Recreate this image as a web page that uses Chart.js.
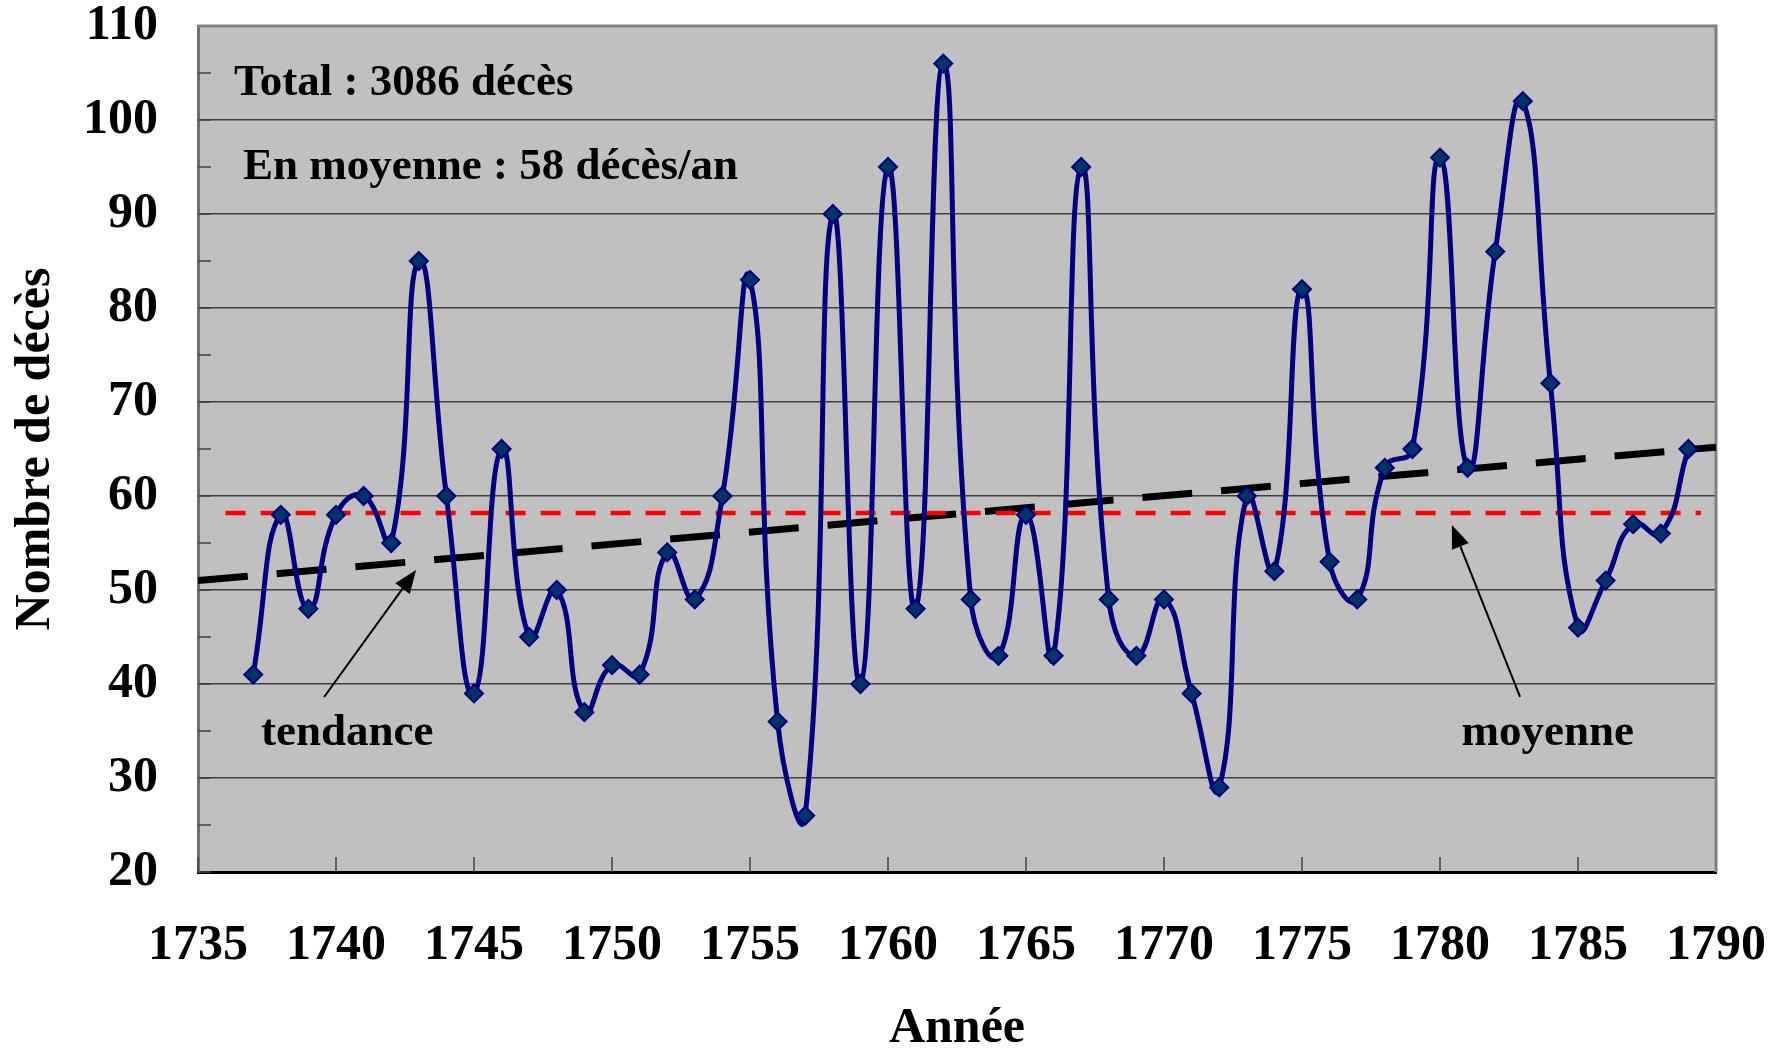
<!DOCTYPE html>
<html>
<head>
<meta charset="utf-8">
<script src="https://cdn.jsdelivr.net/npm/chart.js@4.4.1/dist/chart.umd.min.js"></script>
<style>
html,body{margin:0;padding:0;background:#fff;}
canvas{display:block;}
</style>
</head>
<body>
<canvas id="c" width="1787" height="1051"></canvas>
<script>
// ---- Data ----
const years = [1737,1738,1739,1740,1741,1742,1743,1744,1745,1746,1747,1748,1749,1750,1751,1752,1753,1754,1755,1756,1757,1758,1759,1760,1761,1762,1763,1764,1765,1766,1767,1768,1769,1770,1771,1772,1773,1774,1775,1776,1777,1778,1779,1780,1781,1782,1783,1784,1785,1786,1787,1788,1789];
const deaths = [41,58,48,58,60,55,85,60,39,65,45,50,37,42,41,54,49,60,83,36,26,90,40,95,48,106,49,43,58,43,95,49,43,49,39,29,60,52,82,53,49,63,65,96,63,86,102,72,46,51,57,56,65];
const meanYears = [1736, 1789.45];
const meanValues = [58.2, 58.2];
const trendYears = [1735, 1790];
const trendValues = [51.0, 65.2];
const xRange = [1735, 1790];
const yRange = [20, 110];
const xStep = 5;
const yStep = 5;
const yLabelStep = 10;
const xTitle = 'Année';
const yTitle = 'Nombre de décès';
const noteTotal = 'Total : 3086 décès';
const noteMean = 'En moyenne : 58 décès/an';
const noteTrend = 'tendance';
const noteMeanLabel = 'moyenne';

// ---- Annotation placement (data coordinates) ----
const textNotes = [
  {text: noteTotal, x: 1736.30, y: 102.66},
  {text: noteMean, x: 1736.63, y: 93.72},
  {text: noteTrend, x: 1737.28, y: 33.51},
  {text: noteMeanLabel, x: 1780.78, y: 33.51}
];
const arrows = [
  {x1: 1739.57, y1: 38.62, x2: 1742.90, y2: 52.13},
  {x1: 1782.90, y1: 38.62, x2: 1780.43, y2: 56.91}
];

const FONT = '"Liberation Serif", "Times New Roman", serif';

const decor = {
  id: 'decor',
  beforeDraw(chart) {
    const {ctx, chartArea: a} = chart;
    ctx.save();
    ctx.fillStyle = '#C0C0C0';
    ctx.fillRect(a.left, a.top, a.right - a.left, a.bottom - a.top);
    ctx.restore();
  },
  beforeDatasetsDraw(chart) {
    const {ctx, chartArea: a, scales: {x, y}} = chart;
    ctx.save();
    ctx.strokeStyle = '#404040';
    ctx.lineWidth = 1.5;
    y.ticks.forEach(t => {
      const py = y.getPixelForValue(t.value);
      ctx.beginPath(); ctx.moveTo(a.left, py); ctx.lineTo(a.left + 13, py); ctx.stroke();
    });
    x.ticks.forEach(t => {
      const px = x.getPixelForValue(t.value);
      ctx.beginPath(); ctx.moveTo(px, a.bottom); ctx.lineTo(px, a.bottom - 15); ctx.stroke();
    });
    ctx.strokeStyle = '#808080';
    ctx.lineWidth = 3;
    ctx.beginPath();
    ctx.moveTo(a.left, a.top); ctx.lineTo(a.right, a.top); ctx.lineTo(a.right, a.bottom);
    ctx.stroke();
    ctx.restore();
  },
  afterDatasetsDraw(chart) {
    const {ctx, scales: {x, y}} = chart;
    ctx.save();
    ctx.fillStyle = '#000';
    ctx.font = 'bold 45px ' + FONT;
    ctx.textBaseline = 'alphabetic';
    ctx.textAlign = 'left';
    textNotes.forEach(n => ctx.fillText(n.text, x.getPixelForValue(n.x), y.getPixelForValue(n.y)));
    ctx.strokeStyle = '#000';
    ctx.lineWidth = 2;
    arrows.forEach(ar => {
      const x1 = x.getPixelForValue(ar.x1), y1 = y.getPixelForValue(ar.y1);
      const x2 = x.getPixelForValue(ar.x2), y2 = y.getPixelForValue(ar.y2);
      const ang = Math.atan2(y2 - y1, x2 - x1);
      const hl = 23, hw = 9;
      const bx = x2 - hl * Math.cos(ang), by = y2 - hl * Math.sin(ang);
      ctx.beginPath(); ctx.moveTo(x1, y1); ctx.lineTo(bx, by); ctx.stroke();
      ctx.beginPath();
      ctx.moveTo(x2, y2);
      ctx.lineTo(bx + hw * Math.sin(ang), by - hw * Math.cos(ang));
      ctx.lineTo(bx - hw * Math.sin(ang), by + hw * Math.cos(ang));
      ctx.closePath(); ctx.fill();
    });
    ctx.restore();
  }
};

const toXY = (xs, ys) => xs.map((v, i) => ({x: v, y: ys[i]}));

new Chart(document.getElementById('c'), {
  type: 'line',
  data: {
    datasets: [
      {
        data: toXY(years, deaths),
        borderColor: '#000080',
        borderWidth: 5,
        tension: 0.5,
        pointStyle: 'rectRot',
        pointRadius: 9,
        pointBackgroundColor: '#003366',
        pointBorderColor: '#000080',
        pointBorderWidth: 2
      },
      {
        data: toXY(meanYears, meanValues),
        borderColor: '#FF0000',
        borderWidth: 4.5,
        borderDash: [20, 15],
        pointRadius: 0,
        tension: 0
      },
      {
        data: toXY(trendYears, trendValues),
        borderColor: '#000000',
        borderWidth: 7,
        borderDash: [50, 29],
        pointRadius: 0,
        tension: 0
      }
    ]
  },
  options: {
    responsive: false,
    devicePixelRatio: 1,
    animation: false,
    layout: {padding: {top: 26, right: 71, left: 0, bottom: 0}},
    plugins: {legend: {display: false}, tooltip: {enabled: false}},
    scales: {
      x: {
        type: 'linear',
        min: xRange[0], max: xRange[1],
        grid: {display: false, drawTicks: false},
        border: {display: true, color: '#000', width: 3},
        ticks: {
          stepSize: xStep, autoSkip: false, maxRotation: 0,
          padding: 49, color: '#000',
          font: {family: FONT, size: 50, weight: 'bold', lineHeight: 1},
          callback: v => String(v)
        },
        title: {
          display: true, text: xTitle, color: '#000',
          font: {family: FONT, size: 50, weight: 'bold', lineHeight: 0.8},
          padding: {top: 0, bottom: 2}
        },
        afterFit: s => { s.height = 179; s.paddingLeft = 0; s.paddingRight = 0; }
      },
      y: {
        min: yRange[0], max: yRange[1],
        grid: {
          drawTicks: false,
          color: c => (c.tick && c.tick.value % yLabelStep === 0) ? '#404040' : 'rgba(0,0,0,0)',
          lineWidth: 1.5
        },
        border: {display: true, color: '#707070', width: 3},
        ticks: {
          stepSize: yStep, autoSkip: false,
          padding: 40, color: '#000',
          font: {family: FONT, size: 50, weight: 'bold', lineHeight: 1},
          callback: v => (v % yLabelStep === 0 ? String(v) : '')
        },
        title: {
          display: true, text: yTitle, color: '#000',
          font: {family: FONT, size: 50, weight: 'bold', lineHeight: 1},
          padding: {top: 11, bottom: 0}
        },
        afterFit: s => { s.width = 198; s.paddingTop = 0; s.paddingBottom = 0; }
      }
    }
  },
  plugins: [decor]
});
</script>
</body>
</html>
